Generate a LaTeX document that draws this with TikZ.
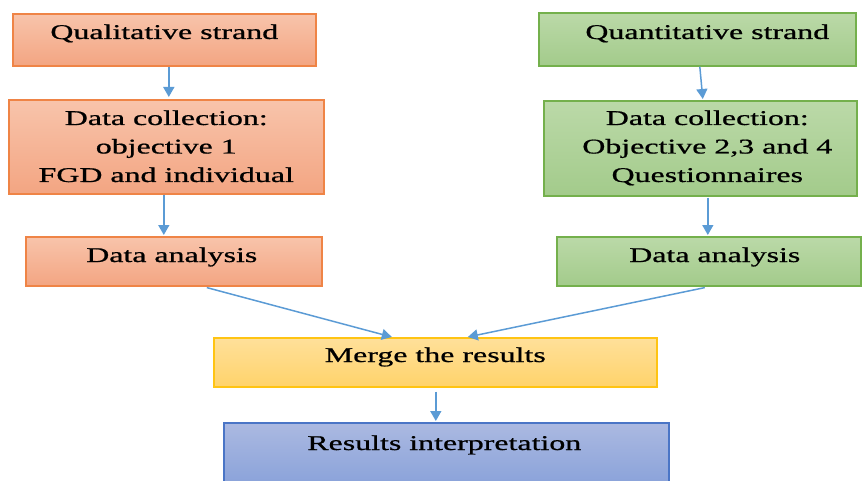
\documentclass[tikz,border=0pt]{standalone}
\usepackage{fontspec}
\setmainfont{Liberation Serif}[FakeStretch=1.52,FakeBold=0.8]
\usetikzlibrary{arrows.meta,calc}

% fills and outlines of the four box families
\definecolor{orTop}{HTML}{F8C4AB}
\definecolor{orBot}{HTML}{F3A582}
\definecolor{orLine}{HTML}{EF8446}
\definecolor{grTop}{HTML}{BBD9A8}
\definecolor{grBot}{HTML}{A3CB8B}
\definecolor{grLine}{HTML}{74B04C}
\definecolor{yeTop}{HTML}{FFE09A}
\definecolor{yeBot}{HTML}{FFD36B}
\definecolor{yeLine}{HTML}{FFC413}
\definecolor{blTop}{HTML}{ABB9E1}
\definecolor{blBot}{HTML}{8BA3DA}
\definecolor{blLine}{HTML}{4A75C6}
\definecolor{arrowBlue}{HTML}{5B9BD5}

\tikzset{
  box/.style n args={3}{draw=#3, top color=#1, bottom color=#2, line width=1.6pt,
    rectangle, inner sep=0pt, anchor=north west},
  orbox/.style={box={orTop}{orBot}{orLine}},
  grbox/.style={box={grTop}{grBot}{grLine}},
  yebox/.style={box={yeTop}{yeBot}{yeLine}},
  blbox/.style={box={blTop}{blBot}{blLine}},
  label text/.style={anchor=base, inner sep=0pt,
    font=\fontsize{21}{28.5}\selectfont},
  flow/.style={draw=arrowBlue, line width=1.5pt,
    -{Triangle[length=10pt,width=11pt]}},
}
\newcommand{\lines}[1]{\setlength{\tabcolsep}{0pt}\begin{tabular}[t]{c}#1\end{tabular}}

\begin{document}
\begin{tikzpicture}[x=1pt,y=-1pt]
\useasboundingbox (0,0) rectangle (864,481);

% qualitative strand (left column)
\node[orbox, minimum width=303pt, minimum height=52pt] (ql1) at (12,13) {};
\node[orbox, minimum width=315pt, minimum height=94pt] (ql2) at (8,99) {};
\node[orbox, minimum width=296pt, minimum height=49pt] (ql3) at (25,236) {};

% quantitative strand (right column)
\node[grbox, minimum width=317pt, minimum height=53pt] (qn1) at (538,12) {};
\node[grbox, minimum width=313pt, minimum height=95pt] (qn2) at (543,100) {};
\node[grbox, minimum width=304pt, minimum height=49pt] (qn3) at (556,236) {};

% merging and interpretation
\node[yebox, minimum width=443pt, minimum height=49pt] (mg) at (213,337) {};
\node[blbox, minimum width=445pt, minimum height=60pt] (ri) at (223,422) {};

% box texts, baselines set about 26pt below each box top
\node[label text] (ql1t) at ([yshift=-26pt]ql1.north) {Qualitative strand};
\node[label text] (ql2t) at ([yshift=-26pt]ql2.north) {\lines{Data collection:\\objective 1\\FGD and individual}};
\node[label text] (ql3t) at ([xshift=-2pt,yshift=-26pt]ql3.north) {Data analysis};
\node[label text] (qn1t) at ([xshift=10pt,yshift=-27pt]qn1.north) {Quantitative strand};
\node[label text] (qn2t) at ([xshift=7pt,yshift=-25pt]qn2.north) {\lines{Data collection:\\Objective 2,3 and 4\\Questionnaires}};
\node[label text] (qn3t) at ([xshift=6pt,yshift=-26pt]qn3.north) {Data analysis};
\node[label text] (mgt) at ([yshift=-25pt]mg.north) {Merge the results};
\node[label text] (rit) at ([xshift=-2pt,yshift=-28pt]ri.north) {Results interpretation};

% connectors
\draw[flow] ([xshift=4.5pt]ql1.south) -- ([xshift=2.5pt,yshift=2pt]ql2.north);
\draw[flow] ([xshift=-2.5pt]ql2.south) -- ([xshift=-10pt,yshift=1pt]ql3.north);
\draw[flow] ([xshift=2.5pt]qn1.south) -- ([xshift=2.5pt,yshift=1pt]qn2.north);
\draw[flow] ([xshift=7.5pt,yshift=-1pt]qn2.south) -- ([xshift=-1pt,yshift=1pt]qn3.north);
\draw[flow] ([xshift=33pt,yshift=-1pt]ql3.south) -- ([xshift=-43.5pt]mg.north);
\draw[flow] ([xshift=-4pt,yshift=-1pt]qn3.south) -- ([xshift=32.5pt]mg.north);
\draw[flow] ([xshift=0.5pt,yshift=-4pt]mg.south) -- ([xshift=-10.5pt,yshift=1pt]ri.north);
\end{tikzpicture}
\end{document}
